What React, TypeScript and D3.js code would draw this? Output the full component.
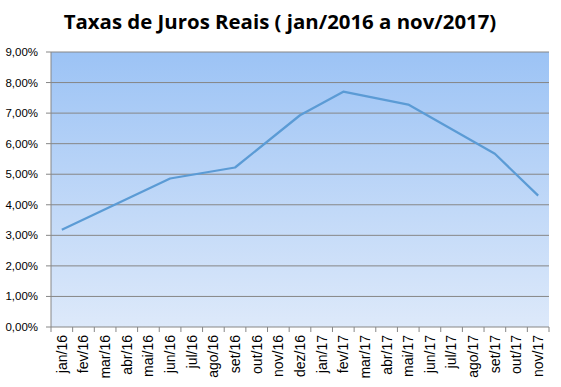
import React from 'react';
import * as d3 from 'd3';

const width = 561;
const height = 387;

const meses = [
  'jan/16', 'fev/16', 'mar/16', 'abr/16', 'mai/16', 'jun/16', 'jul/16', 'ago/16',
  'set/16', 'out/16', 'nov/16', 'dez/16', 'jan/17', 'fev/17', 'mar/17', 'abr/17',
  'mai/17', 'jun/17', 'jul/17', 'ago/17', 'set/17', 'out/17', 'nov/17',
];
// meses sem valor ficam null e a linha liga os pontos vizinhos
const taxas: (number | null)[] = [
  3.18, null, null, null, null, 4.86, null, null,
  5.22, null, null, 6.93, null, 7.7, null, null,
  7.28, null, null, null, 5.67, null, 4.3,
];
const yTicks = [0, 1, 2, 3, 4, 5, 6, 7, 8, 9];

const margin = {top: 52, right: 12, bottom: 60, left: 51};

export default function App() {
  const innerW = width - margin.left - margin.right;
  const innerH = height - margin.top - margin.bottom;

  const x = d3.scaleBand().domain(meses).range([0, innerW]);
  const y = d3.scaleLinear().domain([0, 9]).range([innerH, 0]);

  const pontos = meses
    .map((m, i) => ({m, v: taxas[i]}))
    .filter(d => d.v !== null) as {m: string, v: number}[];

  const linha = d3.line<{m: string, v: number}>()
    .x(d => x(d.m)! + x.bandwidth() / 2)
    .y(d => y(d.v));

  const fmt = (v: number) => v.toFixed(2).replace('.', ',') + '%';
  const font = 'Liberation Sans, Arial, sans-serif';

  return (
    <svg width={width} height={height} style={{position: 'absolute', left: 0, top: 0}}>
      <defs>
        <linearGradient id="fundo" x1="0" y1="0" x2="0" y2="1">
          <stop offset="0%" stopColor="#9cc3f5" />
          <stop offset="100%" stopColor="#dde9fa" />
        </linearGradient>
      </defs>
      <rect width={width} height={height} fill="#fff" />
      <text x={280} y={29} textAnchor="middle" fontFamily="Open Sans, sans-serif"
        fontWeight="bold" fontSize={20.4}>
        Taxas de Juros Reais ( jan/2016 a nov/2017)
      </text>
      <g transform={`translate(${margin.left},${margin.top})`}>
        <rect width={innerW} height={innerH} fill="url(#fundo)" />
        {yTicks.map(t => (
          <g key={t}>
            <line x1={-5} x2={innerW} y1={y(t)} y2={y(t)} stroke="#868686" strokeWidth={1} />
            <text x={-13} y={y(t)} dy="0.35em" textAnchor="end" fontFamily={font}
              fontSize={11.5} fill="#000">{fmt(t)}</text>
          </g>
        ))}
        <line x1={0} x2={0} y1={0} y2={innerH} stroke="#868686" />
        {meses.map((m, i) => (
          <line key={'t' + m} x1={x(m)!} x2={x(m)!} y1={innerH} y2={innerH + 5}
            stroke="#868686" />
        ))}
        <line x1={innerW} x2={innerW} y1={innerH} y2={innerH + 5} stroke="#868686" />
        {meses.map(m => (
          <text key={m} transform={`translate(${x(m)! + x.bandwidth() / 2},${innerH + 8}) rotate(-90)`}
            textAnchor="end" dy="0.35em" fontFamily={font} fontSize={14} fill="#000">{m}</text>
        ))}
        <path d={linha(pontos)!} fill="none" stroke="#5b9bd5" strokeWidth={2.25}
          strokeLinejoin="round" />
      </g>
    </svg>
  );
}
